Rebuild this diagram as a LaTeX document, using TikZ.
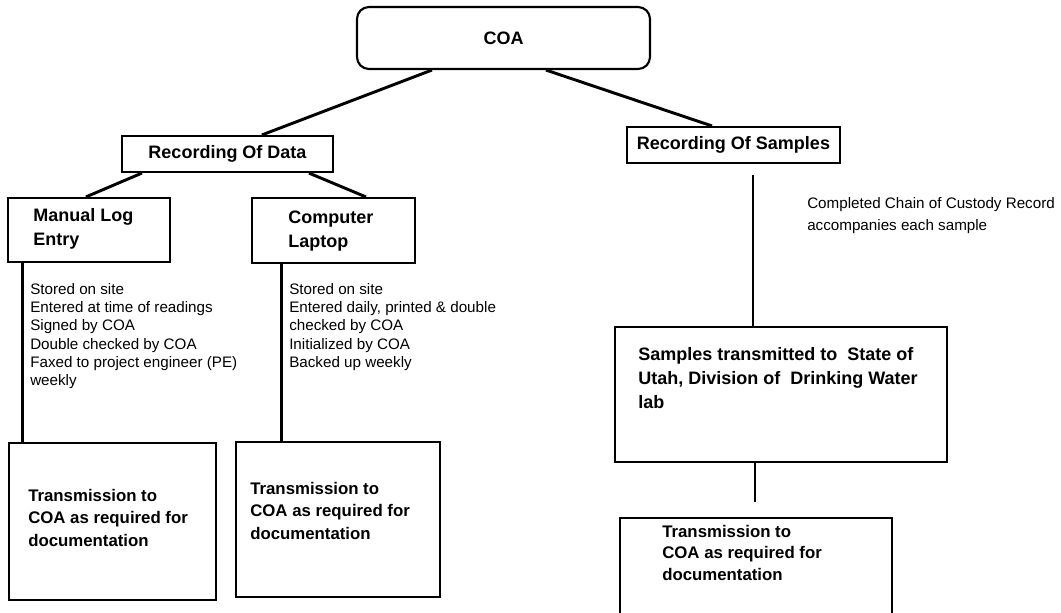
\documentclass[tikz,border=0pt]{standalone}
\usepackage{fontspec}
\setmainfont{Liberation Sans}
\usetikzlibrary{calc,fit}
\begin{document}
\begin{tikzpicture}[x=0.75pt,y=-0.75pt,
  bx/.style={draw=black,line width=1.6pt,inner sep=0pt,fill=none},
  conn/.style={draw=black,line width=2.2pt},
  btxt/.style={font=\fontsize{13.5}{18}\selectfont\bfseries,inner sep=0pt,align=left,anchor=north west},
  ttxt/.style={font=\fontsize{12.6}{16.9}\selectfont\bfseries,inner sep=0pt,align=left,anchor=north west},
  stxt/.style={font=\fontsize{11.4}{13.7}\selectfont,inner sep=0pt,align=left,anchor=north west}]
\useasboundingbox (0,0) rectangle (1061,613);
\clip (0,0) rectangle (1061,613);
\fill[white] (0,0) rectangle (1061,613);
% boxes
\node[bx,rounded corners=9pt,fit={(357,7) (650,69)}] (coa) {};
\node[bx,fit={(122,136) (333,172)}] (recdata) {};
\node[bx,fit={(627,127) (840,163)}] (recsamp) {};
\node[bx,fit={(8,198) (170,262)}] (manual) {};
\node[bx,fit={(252,198) (415,263)}] (computer) {};
\node[bx,fit={(9,443) (216,600)}] (trans1) {};
\node[bx,fit={(236,442) (440,597)}] (trans2) {};
\node[bx,fit={(615,327) (947,462)}] (samples) {};
\node[bx,fit={(620,518) (892,640)}] (trans3) {};
% texts
\node[font=\fontsize{13.5}{16}\selectfont\bfseries,inner sep=0pt] (coatxt) at (coa.center) {COA};
\node[font=\fontsize{13.5}{16}\selectfont\bfseries,inner sep=0pt] (recdatatxt) at (recdata.center) {Recording Of Data};
\node[font=\fontsize{13.5}{16}\selectfont\bfseries,inner sep=0pt] (recsamptxt) at (recsamp.center) {Recording Of Samples};
\node[btxt] (manualtxt) at (33,208) {Manual Log\\Entry};
\node[btxt] (computertxt) at (288,211) {Computer\\Laptop};
\node[stxt] (manlist) at (30,283) {Stored on site\\Entered at time of readings\\Signed by COA\\Double checked by COA\\Faxed to project engineer (PE)\\weekly};
\node[stxt] (complist) at (289,283) {Stored on site\\Entered daily, printed \& double\\checked by COA\\Initialized by COA\\Backed up weekly};
\node[stxt,font=\fontsize{11.4}{17}\selectfont] (custody) at (807,197) {Completed Chain of Custody Record\\accompanies each sample};
\node[btxt] (samptxt) at (638,347) {Samples transmitted to \ State of\\Utah, Division of \ Drinking Water\\lab};
\node[ttxt] (trans1txt) at (28,489) {Transmission to\\COA as required for\\documentation};
\node[ttxt] (trans2txt) at (250,482) {Transmission to\\COA as required for\\documentation};
\node[ttxt,font=\fontsize{12.6}{16.1}\selectfont\bfseries] (trans3txt) at (662,525) {Transmission to\\COA as required for\\documentation};
% connectors
\draw[conn] ($(coa.south west)+(76,0)$) -- ($(recdata.north west)+(141,0)$);
\draw[conn] ($(coa.south west)+(190,0)$) -- ($(recsamp.north west)+(86,0)$);
\draw[conn] ($(recdata.south west)+(21,0)$) -- ($(manual.north west)+(79,0)$);
\draw[conn] ($(recdata.south west)+(188,0)$) -- ($(computer.north west)+(115,0)$);
\draw[conn] ($(manual.south west)+(16,0)$) coordinate (m1) -- (m1 |- trans1.north);
\draw[conn] ($(computer.south west)+(31,0)$) coordinate (c1) -- (c1 |- trans2.north);
\coordinate (sstart) at (753,175);
\draw[conn] (sstart) -- (sstart |- samples.north);
\coordinate (send) at (755,502);
\draw[conn] (send |- samples.south) -- (send);
\end{tikzpicture}
\end{document}
